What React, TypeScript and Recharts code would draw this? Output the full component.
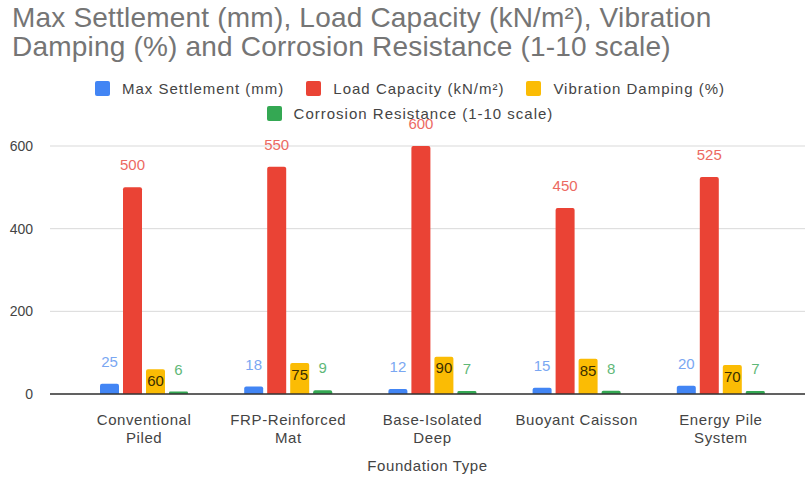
import React from 'react'
import { BarChart, Bar, XAxis, YAxis, CartesianGrid, LabelList } from 'recharts'

const categories = ['Conventional Piled', 'FRP-Reinforced Mat', 'Base-Isolated Deep', 'Buoyant Caisson', 'Energy Pile System']
const tickLines = [['Conventional', 'Piled'], ['FRP-Reinforced', 'Mat'], ['Base-Isolated', 'Deep'], ['Buoyant Caisson'], ['Energy Pile', 'System']]
const settlement = [25, 18, 12, 15, 20]
const loadCapacity = [500, 550, 600, 450, 525]
const damping = [60, 75, 90, 85, 70]
const corrosion = [6, 9, 7, 8, 7]
const yTicks = [0, 200, 400, 600]
const titleLines = ['Max Settlement (mm), Load Capacity (kN/m²), Vibration', 'Damping (%) and Corrosion Resistance (1-10 scale)']

const series = [
  { key: 'settlement', name: 'Max Settlement (mm)', color: '#4285f4', label: '#7aa7f2' },
  { key: 'load', name: 'Load Capacity (kN/m²)', color: '#ea4335', label: '#ec6a62' },
  { key: 'damping', name: 'Vibration Damping (%)', color: '#fbbc04', label: '#3a2e00' },
  { key: 'corrosion', name: 'Corrosion Resistance (1-10 scale)', color: '#34a853', label: '#5fb878' },
]

const data = categories.map((c, i) => ({
  name: c,
  settlement: settlement[i],
  load: loadCapacity[i],
  damping: damping[i],
  corrosion: corrosion[i],
}))

const font = '"Liberation Sans", Arial, sans-serif'

function CategoryTick({ x, y, payload, index }: any) {
  const lines = tickLines[index] || [payload.value]
  return (
    <text x={x} y={y} textAnchor="middle" fill="#444" fontSize={15} letterSpacing={0.6} fontFamily={font}>
      {lines.map((l, i) => (
        <tspan key={i} x={x} dy={i === 0 ? 23 : 18}>{l}</tspan>
      ))}
    </text>
  )
}

function LegendItem({ s }: { s: typeof series[number] }) {
  return (
    <span style={{ display: 'inline-flex', alignItems: 'center', margin: '0 11px' }}>
      <span style={{ width: 15, height: 15, borderRadius: 2, background: s.color, marginRight: 12 }} />
      <span>{s.name}</span>
    </span>
  )
}

export default function App() {
  return (
    <div style={{ position: 'absolute', left: 0, top: 0, width: 805, height: 485, background: '#fff', fontFamily: font }}>
      <div style={{ position: 'absolute', left: 12, top: 3, fontSize: 28, letterSpacing: 0.2, lineHeight: '29px', color: '#757575', whiteSpace: 'nowrap' }}>
        {titleLines.map((t) => (
          <div key={t}>{t}</div>
        ))}
      </div>
      <div style={{ position: 'absolute', left: 15, width: 790, top: 77, fontSize: 15, letterSpacing: 1, color: '#444', textAlign: 'center', lineHeight: '23px', whiteSpace: 'nowrap' }}>
        <div>
          {series.slice(0, 3).map((s) => (
            <LegendItem key={s.key} s={s} />
          ))}
        </div>
        <div>
          <LegendItem s={series[3]} />
        </div>
      </div>
      <BarChart width={805} height={485} data={data} margin={{ top: 146, right: 0, bottom: 0, left: 0 }} barGap={4} barSize={19}>
        <CartesianGrid vertical={false} stroke="#d9d9d9" />
        <XAxis
          dataKey="name"
          height={91}
          interval={0}
          tickLine={false}
          axisLine={{ stroke: '#333', strokeWidth: 1.5 }}
          tick={<CategoryTick />}
          padding={{ left: 22, right: 12 }}
          label={{ value: 'Foundation Type', position: 'insideBottom', offset: 14, fill: '#444', fontSize: 15, letterSpacing: 0.6, fontFamily: font }}
        />
        <YAxis
          width={50}
          domain={[0, 600]}
          ticks={yTicks}
          axisLine={false}
          tickLine={false}
          tickSize={0}
          tickMargin={17}
          tick={{ fill: '#444', fontSize: 14, fontFamily: font }}
        />
        {series.map((s) => (
          <Bar key={s.key} dataKey={s.key} name={s.name} fill={s.color} radius={[2, 2, 0, 0]} isAnimationActive={false}>
            <LabelList
              dataKey={s.key}
              position={s.key === 'damping' ? 'insideTop' : 'top'}
              offset={s.key === 'damping' ? 6 : 17}
              fill={s.label}
              fontSize={15}
              fontFamily={font}
            />
          </Bar>
        ))}
      </BarChart>
    </div>
  )
}
